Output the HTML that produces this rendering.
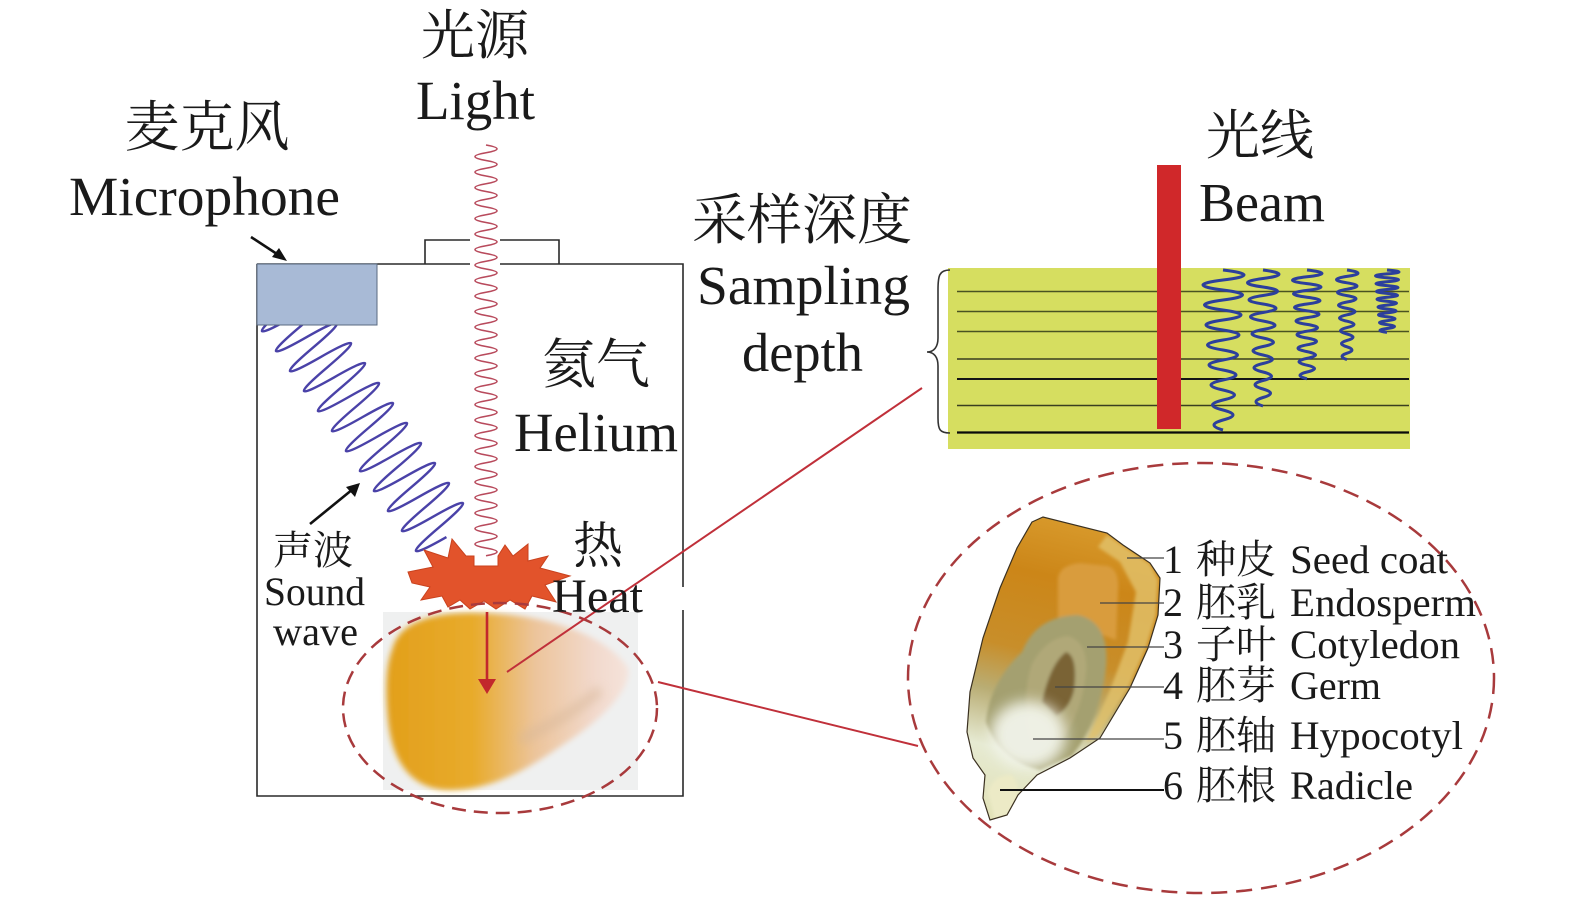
<!DOCTYPE html>
<html>
<head>
<meta charset="utf-8">
<style>
html,body{margin:0;padding:0;background:#fff;}
body{width:1575px;height:902px;overflow:hidden;}
svg{display:block;}
.lt{font-family:"Liberation Serif","Noto Serif CJK SC",serif;fill:#1a1a1a;}
.cj{font-family:"Liberation Serif","Noto Serif CJK SC","Noto Sans CJK SC",serif;fill:#1a1a1a;}
</style>
</head>
<body>
<svg width="1575" height="902" viewBox="0 0 1575 902" xmlns="http://www.w3.org/2000/svg">
<defs>
  <filter id="blur3" x="-20%" y="-20%" width="140%" height="140%"><feGaussianBlur stdDeviation="3"/></filter>
  <filter id="blur1" x="-20%" y="-20%" width="140%" height="140%"><feGaussianBlur stdDeviation="1.5"/></filter>
  <filter id="blur5" x="-40%" y="-40%" width="180%" height="180%"><feGaussianBlur stdDeviation="5"/></filter>
  <filter id="blur7" x="-50%" y="-50%" width="200%" height="200%"><feGaussianBlur stdDeviation="7"/></filter>
  <linearGradient id="seedG" gradientUnits="userSpaceOnUse" x1="390" y1="0" x2="630" y2="0">
    <stop offset="0" stop-color="#e2a01c"/>
    <stop offset="0.35" stop-color="#e8ab2c"/>
    <stop offset="0.6" stop-color="#ecc49a"/>
    <stop offset="0.85" stop-color="#f2d9cc"/>
    <stop offset="1" stop-color="#f5e4dc"/>
  </linearGradient>
  <linearGradient id="kernG" gradientUnits="userSpaceOnUse" x1="1080" y1="520" x2="1010" y2="820">
    <stop offset="0" stop-color="#d89a2c"/>
    <stop offset="0.2" stop-color="#cc8618"/>
    <stop offset="0.45" stop-color="#c88e2a"/>
    <stop offset="0.6" stop-color="#b9ad74"/>
    <stop offset="0.78" stop-color="#e6ead2"/>
    <stop offset="1" stop-color="#e2e2b8"/>
  </linearGradient>
</defs>

<!-- sound wave -->
<g transform="translate(285.5,307.2) rotate(55)">
  <path d="M0,0 q6.1,66 12.2,0 t12.2,0 t12.2,0 t12.2,0 t12.2,0 t12.2,0 t12.2,0 t12.2,0 t12.2,0 t12.2,0 t12.2,0 t12.2,0 t12.2,0 t12.2,0 t12.2,0 t12.2,0 t12.2,0 t12.2,0 t12.2,0 t12.2,0 t12.2,0 t12.2,0 t12.2,0" fill="none" stroke="#4a42a8" stroke-width="2.4" stroke-linejoin="round"/>
</g>

<!-- box -->
<path d="M257,264 V796 H683 V610 M683,587 V264 H500 M470,264 H257" fill="none" stroke="#2a2a2a" stroke-width="1.6"/>
<path d="M425,264 V240 H470 M500,240 H559 V264" fill="none" stroke="#2a2a2a" stroke-width="1.6"/>

<!-- microphone -->
<rect x="257" y="264" width="120" height="61" fill="#a8bad6" stroke="#5a6a80" stroke-width="1"/>

<line x1="251" y1="237" x2="280" y2="256" stroke="#111" stroke-width="2.6"/>
<polygon points="287,261 272,257 279,248" fill="#111"/>

<line x1="310" y1="524" x2="353" y2="489" stroke="#111" stroke-width="2.6"/>
<polygon points="360,483 355,497 346,487" fill="#111"/>

<!-- light wave -->
<path d="M486,145 q22,3.875 0,7.75 t0,7.75 t0,7.75 t0,7.75 t0,7.75 t0,7.75 t0,7.75 t0,7.75 t0,7.75 t0,7.75 t0,7.75 t0,7.75 t0,7.75 t0,7.75 t0,7.75 t0,7.75 t0,7.75 t0,7.75 t0,7.75 t0,7.75 t0,7.75 t0,7.75 t0,7.75 t0,7.75 t0,7.75 t0,7.75 t0,7.75 t0,7.75 t0,7.75 t0,7.75 t0,7.75 t0,7.75 t0,7.75 t0,7.75 t0,7.75 t0,7.75 t0,7.75 t0,7.75 t0,7.75 t0,7.75 t0,7.75 t0,7.75 t0,7.75 t0,7.75 t0,7.75 t0,7.75 t0,7.75 t0,7.75 t0,7.75 t0,7.75 t0,7.75 t0,7.75 t0,7.75" fill="none" stroke="#b84a5c" stroke-width="1.6"/>

<!-- seed image -->
<rect x="383" y="612" width="255" height="178" fill="#eff0f0"/>
<path d="M392,650 C400,615 450,610 500,614 C560,618 610,640 628,668 C632,690 600,720 570,740 C540,760 500,790 450,790 C410,790 392,760 388,720 C385,690 386,665 392,650 Z" fill="url(#seedG)" filter="url(#blur3)"/>
<path d="M520,740 C550,725 575,712 600,690" fill="none" stroke="#d8b89a" stroke-width="10" opacity="0.6" filter="url(#blur5)"/>

<!-- burst -->
<polygon points="408,572 433,567 424,550 448,558 452,539 466,556 474,556 474,566 498,566 498,556 505,545 513,556 528,544 528,561 548,556 540,568 570,576 545,585 556,602 532,596 525,609 510,600 496,609 484,601 470,609 460,600 448,607 442,596 421,600 430,587 412,583" fill="#e2532b" stroke="#c9421e" stroke-width="1"/>

<ellipse cx="500" cy="708" rx="157" ry="105" fill="none" stroke="#a83a3c" stroke-width="2.5" stroke-dasharray="14 8"/>

<line x1="487" y1="612" x2="487" y2="684" stroke="#c2282c" stroke-width="2.6"/>
<polygon points="478,679 496,679 487,694" fill="#c2282c"/>

<line x1="507" y1="672" x2="922" y2="388" stroke="#c0303a" stroke-width="2"/>
<line x1="658" y1="682" x2="918" y2="746" stroke="#c0303a" stroke-width="2"/>

<!-- layered sample -->
<rect x="948" y="268" width="462" height="181" fill="#d6de60"/>
<g stroke-width="1.6">
  <line x1="957" y1="291.5" x2="1409" y2="291.5" stroke="#4a5222"/>
  <line x1="957" y1="311.5" x2="1409" y2="311.5" stroke="#4a5222"/>
  <line x1="957" y1="331.5" x2="1409" y2="331.5" stroke="#4a5222"/>
  <line x1="957" y1="359" x2="1409" y2="359" stroke="#3a3f20"/>
  <line x1="957" y1="379" x2="1409" y2="379" stroke="#151515" stroke-width="2"/>
  <line x1="957" y1="405.5" x2="1409" y2="405.5" stroke="#3a3f20"/>
  <line x1="957" y1="432.5" x2="1409" y2="432.5" stroke="#0a0a0a" stroke-width="2.2"/>
</g>
<rect x="1157" y="165" width="24" height="264" fill="#d0282a"/>
<g fill="none" stroke="#2c3f9c" stroke-width="3" stroke-linejoin="round">
  <path d="M1223,270 q42,5 0,10 q-40,5 0,10 q39,5 0,10 q-37,5 0,10 q36,5 0,10 q-34,5 0,10 q32,5 0,10 q-31,5 0,10 q29,5 0,10 q-28,5 0,10 q26,5 0,10 q-24,5 0,10 q23,5 0,10 q-21,5 0,10 q20,5 0,10 q-18,5 0,10"/>
  <path d="M1263,270 q32,4.25 0,8.5 q-31,4.25 0,8.5 q29,4.25 0,8.5 q-28,4.25 0,8.5 q26,4.25 0,8.5 q-25,4.25 0,8.5 q24,4.25 0,8.5 q-22,4.25 0,8.5 q21,4.25 0,8.5 q-20,4.25 0,8.5 q19,4.25 0,8.5 q-18,4.25 0,8.5 q17,4.25 0,8.5 q-16,4.25 0,8.5 q15,4.25 0,8.5 q-14,4.25 0,8.5"/>
  <path d="M1307,270 q30,3.4 0,6.8 q-29,3.4 0,6.8 q28,3.4 0,6.8 q-27,3.4 0,6.8 q26,3.4 0,6.8 q-25,3.4 0,6.8 q24,3.4 0,6.8 q-22,3.4 0,6.8 q21,3.4 0,6.8 q-20,3.4 0,6.8 q19,3.4 0,6.8 q-18,3.4 0,6.8 q17,3.4 0,6.8 q-16,3.4 0,6.8 q15,3.4 0,6.8 q-14,3.4 0,6.8"/>
  <path d="M1347,270 q22,3.2 0,6.4 q-21,3.2 0,6.4 q20,3.2 0,6.4 q-19,3.2 0,6.4 q18,3.2 0,6.4 q-17,3.2 0,6.4 q16,3.2 0,6.4 q-15,3.2 0,6.4 q14,3.2 0,6.4 q-13,3.2 0,6.4 q12,3.2 0,6.4 q-11,3.2 0,6.4 q10,3.2 0,6.4 q-10,3.2 0,6.4"/>
  <path d="M1387,270 q24,1.95 0,3.9 q-23,1.95 0,3.9 q23,1.95 0,3.9 q-22,1.95 0,3.9 q22,1.95 0,3.9 q-21,1.95 0,3.9 q21,1.95 0,3.9 q-20,1.95 0,3.9 q19,1.95 0,3.9 q-18,1.95 0,3.9 q18,1.95 0,3.9 q-17,1.95 0,3.9 q16,1.95 0,3.9 q-15,1.95 0,3.9 q15,1.95 0,3.9 q-14,1.95 0,3.9"/>
</g>
<path d="M950,270 C939,270 938,276 938,290 L938,338 C938,347 934,352 927,352 C934,352 938,357 938,366 L938,418 C938,430 940,433 950,433" fill="none" stroke="#333" stroke-width="1.6"/>

<!-- kernel cross-section -->
<ellipse cx="1201" cy="678" rx="293" ry="215" fill="none" stroke="#a83a3c" stroke-width="2.5" stroke-dasharray="16 9"/>
<clipPath id="kclip">
  <polygon points="1032,522 1043,517 1107,533 1123,545 1150,563 1160,578 1158,615 1148,648 1130,688 1100,738 1070,758 1037,775 1018,795 1007,815 990,820 983,798 985,775 973,758 967,732 970,692 983,638 1000,588 1017,548"/>
</clipPath>
<g>
  <polygon points="1032,522 1043,517 1107,533 1123,545 1150,563 1160,578 1158,615 1148,648 1130,688 1100,738 1070,758 1037,775 1018,795 1007,815 990,820 983,798 985,775 973,758 967,732 970,692 983,638 1000,588 1017,548" fill="url(#kernG)"/>
  <g clip-path="url(#kclip)">
    <g filter="url(#blur1)">
      <path d="M1107,535 L1123,546 L1150,564 L1158,580 L1156,615 L1146,648 L1128,688 L1098,736 L1086,742 L1110,690 L1128,642 L1136,592 L1120,562 L1098,547 Z" fill="#e2c26a" opacity="0.8"/>
      <path d="M1058,578 Q1060,565 1080,563 L1108,566 Q1120,570 1118,592 L1116,640 L1090,630 Q1070,624 1058,632 Z" fill="#d99c3c"/>
      <path d="M1022,652 Q1036,616 1078,615 Q1110,622 1106,668 Q1100,720 1072,756 L1040,770 Q1000,760 986,722 Q990,682 1022,652 Z" fill="#a4a070"/>
      <path d="M1032,664 Q1046,638 1068,636 Q1088,642 1086,672 Q1082,712 1062,740 L1032,738 Q1020,700 1032,664 Z" fill="#b0a878"/>
      <path d="M1042,702 Q1050,664 1066,652 Q1078,656 1074,690 Q1070,708 1056,716 Z" fill="#7a6434"/>
    </g>
    <ellipse cx="1028" cy="735" rx="38" ry="34" fill="#f2f4ea" opacity="0.95" filter="url(#blur7)"/>
    <path d="M988,792 Q994,774 1012,775 Q1024,790 1013,812 L995,820 Z" fill="#eceac6" filter="url(#blur1)"/>
  </g>
  <polygon points="1032,522 1043,517 1107,533 1123,545 1150,563 1160,578 1158,615 1148,648 1130,688 1100,738 1070,758 1037,775 1018,795 1007,815 990,820 983,798 985,775 973,758 967,732 970,692 983,638 1000,588 1017,548" fill="none" stroke="#3a3020" stroke-width="1.2"/>
</g>
<g stroke="#444" stroke-width="1.3">
  <line x1="1127" y1="558" x2="1164" y2="558"/>
  <line x1="1100" y1="603" x2="1164" y2="603"/>
  <line x1="1087" y1="647" x2="1164" y2="647"/>
  <line x1="1055" y1="687" x2="1164" y2="687"/>
  <line x1="1033" y1="739" x2="1164" y2="739"/>
  <line x1="1000" y1="790" x2="1164" y2="790" stroke="#111" stroke-width="2"/>
</g>

<!-- text -->
<text class="cj" x="475" y="54" font-size="54" text-anchor="middle">光源</text>
<text class="lt" x="416" y="119" font-size="55" textLength="119" lengthAdjust="spacingAndGlyphs">Light</text>

<text class="cj" x="207" y="146" font-size="55" text-anchor="middle">麦克风</text>
<text class="lt" x="69" y="215" font-size="55" textLength="271" lengthAdjust="spacingAndGlyphs">Microphone</text>

<text class="cj" x="802" y="239" font-size="55" text-anchor="middle">采样深度</text>
<text class="lt" x="697" y="304" font-size="55" textLength="213" lengthAdjust="spacingAndGlyphs">Sampling</text>
<text class="lt" x="742" y="371" font-size="55" textLength="121" lengthAdjust="spacingAndGlyphs">depth</text>

<text class="cj" x="1260" y="154" font-size="54" text-anchor="middle">光线</text>
<text class="lt" x="1199" y="221" font-size="55" textLength="126" lengthAdjust="spacingAndGlyphs">Beam</text>

<text class="cj" x="596" y="383" font-size="54" text-anchor="middle">氦气</text>
<text class="lt" x="514" y="451" font-size="55" textLength="164" lengthAdjust="spacingAndGlyphs">Helium</text>

<text class="cj" x="598" y="563" font-size="50" text-anchor="middle">热</text>
<text class="lt" x="552" y="612" font-size="48" textLength="91" lengthAdjust="spacingAndGlyphs">Heat</text>

<text class="cj" x="313" y="564" font-size="40" text-anchor="middle">声波</text>
<text class="lt" x="264" y="605" font-size="40" textLength="101" lengthAdjust="spacingAndGlyphs">Sound</text>
<text class="lt" x="273" y="645" font-size="40" textLength="85" lengthAdjust="spacingAndGlyphs">wave</text>

<g font-size="40">
  <text class="lt" x="1163" y="573">1</text>
  <text class="cj" x="1196" y="573">种皮</text>
  <text class="lt" x="1290" y="573" textLength="158" lengthAdjust="spacingAndGlyphs">Seed coat</text>

  <text class="lt" x="1163" y="616">2</text>
  <text class="cj" x="1196" y="616">胚乳</text>
  <text class="lt" x="1290" y="616" textLength="186" lengthAdjust="spacingAndGlyphs">Endosperm</text>

  <text class="lt" x="1163" y="658">3</text>
  <text class="cj" x="1196" y="658">子叶</text>
  <text class="lt" x="1290" y="658" textLength="170" lengthAdjust="spacingAndGlyphs">Cotyledon</text>

  <text class="lt" x="1163" y="699">4</text>
  <text class="cj" x="1196" y="699">胚芽</text>
  <text class="lt" x="1290" y="699" textLength="91" lengthAdjust="spacingAndGlyphs">Germ</text>

  <text class="lt" x="1163" y="749">5</text>
  <text class="cj" x="1196" y="749">胚轴</text>
  <text class="lt" x="1290" y="749" textLength="173" lengthAdjust="spacingAndGlyphs">Hypocotyl</text>

  <text class="lt" x="1163" y="799">6</text>
  <text class="cj" x="1196" y="799">胚根</text>
  <text class="lt" x="1290" y="799" textLength="123" lengthAdjust="spacingAndGlyphs">Radicle</text>
</g>
</svg>
</body>
</html>
